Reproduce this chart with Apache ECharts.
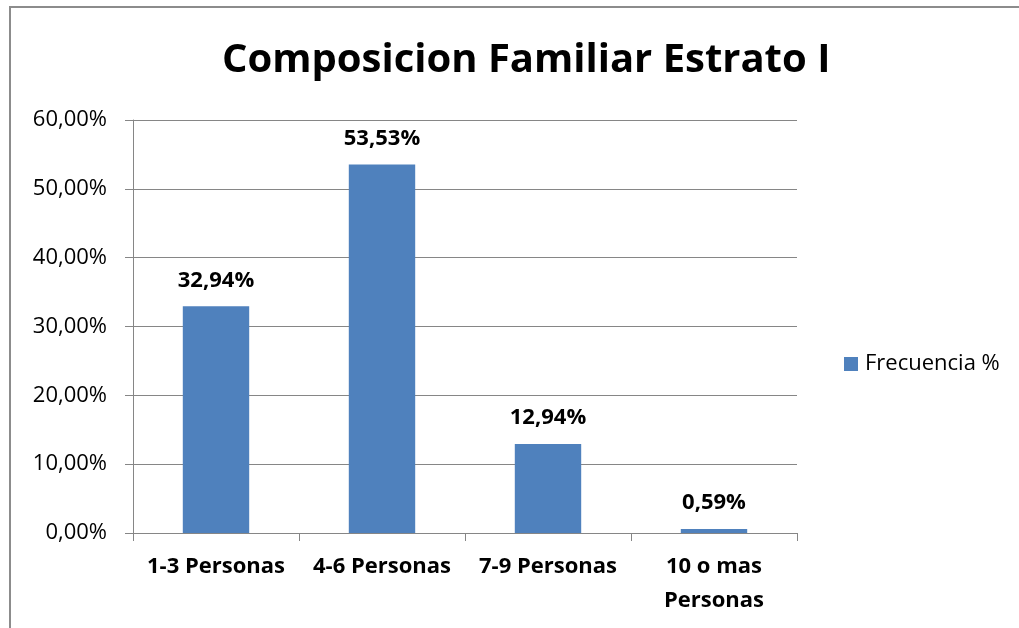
<!DOCTYPE html>
<html>
<head>
<meta charset="utf-8">
<script src="https://cdn.jsdelivr.net/npm/echarts@6/dist/echarts.min.js"></script>
<style>
  html, body { margin: 0; padding: 0; background: #fff; }
  #chart { width: 1019px; height: 628px; }
</style>
</head>
<body>
<div id="chart"></div>
<script>
// datos
const categories = ['1-3 Personas', '4-6 Personas', '7-9 Personas', '10 o mas\nPersonas']
const frecuencia = [32.94, 53.53, 12.94, 0.59]
const seriesName = 'Frecuencia %'
const titleText = 'Composicion Familiar Estrato I'

const FONT = '"Open Sans", "Noto Sans", sans-serif'
const pct = v => v.toFixed(2).replace('.', ',') + '%'

const chart = echarts.init(document.getElementById('chart'))
chart.setOption({
  animation: false,
  textStyle: { fontFamily: FONT },
  title: {
    text: titleText,
    left: 217,
    top: 36,
    textStyle: { fontSize: 40, fontWeight: 'bold', color: '#000', fontFamily: FONT }
  },
  graphic: [{
    type: 'rect',
    shape: { x: 10, y: 7, width: 1200, height: 800 },
    style: { fill: 'none', stroke: '#8c8c8c', lineWidth: 2 },
    silent: true
  }],
  legend: {
    data: [seriesName],
    orient: 'vertical',
    left: 839,
    top: 348,
    itemWidth: 14,
    itemHeight: 14,
    icon: 'rect',
    textStyle: { fontSize: 22, color: '#000', padding: [0, 0, 0, 2] }
  },
  grid: { left: 133, right: 222, top: 120, bottom: 95, containLabel: false },
  xAxis: {
    type: 'category',
    data: categories,
    axisLine: { lineStyle: { color: '#868686', width: 1 } },
    axisTick: { show: true, length: 8, lineStyle: { color: '#868686' } },
    axisLabel: {
      margin: 17,
      fontSize: 22,
      fontWeight: 'bold',
      color: '#000',
      lineHeight: 34,
      interval: 0
    }
  },
  yAxis: {
    type: 'value',
    min: 0,
    max: 60,
    interval: 10,
    axisLine: { show: true, lineStyle: { color: '#868686', width: 1 } },
    axisTick: { show: true, length: 8, lineStyle: { color: '#868686' } },
    splitLine: { lineStyle: { color: '#868686', width: 1 } },
    axisLabel: {
      margin: 26,
      fontSize: 22,
      color: '#000',
      formatter: pct
    }
  },
  series: [{
    name: seriesName,
    type: 'bar',
    data: frecuencia,
    barWidth: '40%',
    itemStyle: { color: '#4F81BD' },
    label: {
      show: true,
      position: 'top',
      distance: 15,
      fontSize: 22,
      fontWeight: 'bold',
      color: '#000',
      formatter: p => pct(p.value)
    }
  }]
})
</script>
</body>
</html>
